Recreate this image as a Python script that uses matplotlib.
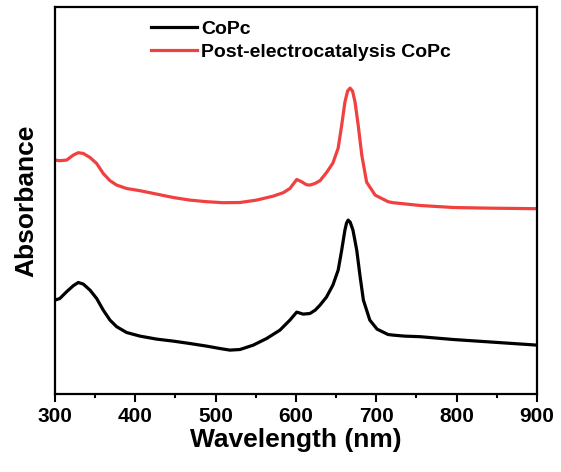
import matplotlib
matplotlib.use("Agg")
import matplotlib.pyplot as plt
from matplotlib.ticker import MultipleLocator

plt.rcParams['font.family'] = ['Liberation Sans', 'DejaVu Sans']
plt.rcParams['font.weight'] = 'bold'

# CoPc spectrum (wavelength nm, absorbance a.u.)
wl_copc = [300, 306, 314.5, 322.8, 329, 335.3, 343.6, 351.9, 360.1, 368.5, 376.8,
           389.2, 405.8, 426.6, 447.3, 468, 488.8, 505.4, 517.8, 530.3, 546.9,
           563.5, 580.1, 592.5, 601, 609, 617.4, 624, 630, 638, 646, 652.6, 657,
           661, 663, 665, 667.5, 671, 675.7, 680, 684, 692, 701, 714.7, 721, 735,
           755, 796, 837, 900]
abs_copc = [0.47, 0.478, 0.512, 0.542, 0.558, 0.55, 0.52, 0.478, 0.42, 0.37, 0.337,
            0.308, 0.29, 0.275, 0.265, 0.253, 0.24, 0.228, 0.22, 0.223, 0.245,
            0.278, 0.32, 0.37, 0.41, 0.4, 0.403, 0.42, 0.445, 0.485, 0.545, 0.62,
            0.72, 0.82, 0.855, 0.87, 0.86, 0.82, 0.72, 0.585, 0.47, 0.37, 0.325,
            0.298, 0.295, 0.29, 0.287, 0.273, 0.262, 0.245]

# post-electrocatalysis CoPc spectrum
wl_post = [300, 306, 314.5, 322.8, 329, 335.3, 343.6, 351.9, 360.1, 368.5, 376.8,
           389.2, 405.8, 426.6, 447.3, 468, 488.8, 509.5, 530.3, 551, 571.8, 584.2,
           592.5, 601, 607, 613, 617.4, 623.6, 630, 638.5, 646, 652.6, 657, 661,
           664.3, 667.4, 670.5, 673.6, 677.5, 682, 688, 698.6, 714.7, 721, 755,
           796, 837, 900]
abs_post = [1.17, 1.167, 1.17, 1.195, 1.207, 1.203, 1.183, 1.153, 1.103, 1.067,
            1.045, 1.028, 1.017, 1.0, 0.983, 0.97, 0.962, 0.957, 0.958, 0.97, 0.99,
            1.007, 1.028, 1.073, 1.062, 1.047, 1.045, 1.053, 1.067, 1.11, 1.155,
            1.23, 1.345, 1.46, 1.515, 1.53, 1.515, 1.46, 1.345, 1.195, 1.06, 0.995,
            0.962, 0.957, 0.943, 0.933, 0.93, 0.927]

fig = plt.figure(figsize=(5.61, 4.72), dpi=100)
ax = fig.add_axes([0.098, 0.165, 0.859, 0.82])

ax.plot(wl_copc, abs_copc, color='black', lw=2.3, label='CoPc',
        solid_joinstyle='round')
ax.plot(wl_post, abs_post, color='#f04040', lw=2.3,
        label='Post-electrocatalysis CoPc', solid_joinstyle='round')

ax.set_xlim(300, 900)
ax.set_ylim(0, 1.935)
ax.xaxis.set_major_locator(MultipleLocator(100))
ax.xaxis.set_minor_locator(MultipleLocator(50))
ax.set_yticks([])
ax.tick_params(axis='x', which='major', direction='out', length=6, width=1.5,
               labelsize=15, pad=3)
ax.tick_params(axis='x', which='minor', direction='out', length=3, width=1.5)
for lab in ax.get_xticklabels():
    lab.set_fontweight('bold')
for s in ax.spines.values():
    s.set_linewidth(1.6)

ax.set_xlabel('Wavelength (nm)', fontsize=19, fontweight='bold', labelpad=2)
ax.set_ylabel('Absorbance', fontsize=19, fontweight='bold', labelpad=12)

ax.legend(loc='upper left', bbox_to_anchor=(0.17, 1.0), frameon=False,
          prop={'size': 14, 'weight': 'bold'}, handlelength=2.4,
          handletextpad=0.2, labelspacing=0.25, borderaxespad=0.3)

fig.savefig('out.png', dpi=100)
